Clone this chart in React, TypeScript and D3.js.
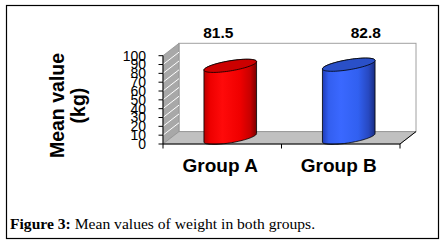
import React from "react";
import * as d3 from "d3";

const categories = ["Group A", "Group B"];
const values = [81.5, 82.8];
const valueLabels = ["81.5", "82.8"];
const yTicks = [0, 10, 20, 30, 40, 50, 60, 70, 80, 90, 100];
const labelDx = [-4, 25];

const W = 446;
const H = 245;

export default function App() {
  const x0 = 163, x1 = 400;
  const dx = 16, dy = 12.4;
  const y = d3.scaleLinear().domain([0, 100]).range([144, 55.7]);
  const xb = d3.scaleBand().domain(categories).range([x0, x1]).padding(0);
  const bw = xb.bandwidth();
  const halfW = bw * 0.222;
  const B = halfW * 0.64;
  const A = Math.sqrt(halfW * halfW - B * B);
  const C = 6.6;
  const t0 = Math.atan2(B, A);
  const line = d3.line<[number, number]>();

  const ell = (cx: number, cy: number, ta: number, tb: number, n = 60) => {
    const pts: [number, number][] = [];
    for (let i = 0; i <= n; i++) {
      const t = ta + ((tb - ta) * i) / n;
      pts.push([cx + A * Math.cos(t) + B * Math.sin(t), cy - C * Math.sin(t)]);
    }
    return pts;
  };

  const y0 = y(0);
  const yTop = y(100);
  const colors = [
    { id: "gr", stops: ["#b80000", "#ee0000", "#ff0a0a", "#f00000", "#c80000", "#7a0000"], top: "#cc0000" },
    { id: "gb", stops: ["#1f3cb8", "#335ff0", "#3a68ff", "#3160f0", "#2748c0", "#182c80"], top: "#2a50c8" },
  ];
  const offs = [0, 0.12, 0.35, 0.68, 0.88, 1];

  return (
    <svg width={W} height={H} style={{ position: "absolute", left: 0, top: 0, background: "#fff" }}>
      <defs>
        {colors.map((c) => (
          <linearGradient key={c.id} id={c.id} x1="0" x2="1" y1="0" y2="0">
            {c.stops.map((s, i) => (
              <stop key={i} offset={offs[i]} stopColor={s} />
            ))}
          </linearGradient>
        ))}
      </defs>
      <rect x={6.5} y={5.5} width={432} height={233} fill="#fff" stroke="#000" strokeWidth={1.2} />

      {/* back wall */}
      <rect x={x0 + dx} y={yTop - dy} width={x1 - x0} height={y0 - yTop} fill="#fff" stroke="#a0a0a0" strokeWidth={1} />
      {/* side wall */}
      <path
        d={line([[x0, y0], [x0, yTop], [x0 + dx, yTop - dy], [x0 + dx, y0 - dy]])! + "Z"}
        fill="#a8a8a8"
        stroke="#909090"
        strokeWidth={0.8}
      />
      {yTicks.slice(1, -1).map((t) => (
        <line key={t} x1={x0} y1={y(t)} x2={x0 + dx} y2={y(t) - dy} stroke="#fff" strokeWidth={1} />
      ))}
      {/* floor */}
      <path
        d={line([[x0, y0], [x1, y0], [x1 + dx, y0 - dy], [x0 + dx, y0 - dy]])! + "Z"}
        fill="#c0c0c0"
        stroke="#909090"
        strokeWidth={0.8}
      />
      <line x1={x1} y1={y0} x2={x1 + dx} y2={y0 - dy} stroke="#000" strokeWidth={1} />

      {/* cylinders */}
      {categories.map((cat, i) => {
        const cx = (xb(cat) as number) + bw / 2 + dx / 2;
        const cyB = y0 - dy / 2;
        const cyT = y(values[i]) - dy / 2;
        const body = [
          ...ell(cx, cyB, t0 + Math.PI, t0 + 2 * Math.PI),
          ...ell(cx, cyT, t0, t0 + Math.PI),
        ];
        const top = ell(cx, cyT, 0, 2 * Math.PI, 80);
        return (
          <g key={cat}>
            <path d={line(body)! + "Z"} fill={`url(#${colors[i].id})`} stroke="#000" strokeWidth={0.8} />
            <path d={line(top)! + "Z"} fill={colors[i].top} stroke="#000" strokeWidth={0.8} />
          </g>
        );
      })}

      {/* axes */}
      <line x1={x0} y1={yTop} x2={x0} y2={y0} stroke="#000" strokeWidth={1} />
      {yTicks.map((t) => (
        <line key={t} x1={x0 - 4.5} y1={y(t)} x2={x0} y2={y(t)} stroke="#000" strokeWidth={1} />
      ))}
      <line x1={x0} y1={y0} x2={x1} y2={y0} stroke="#000" strokeWidth={1} />
      {[x0, ...categories.map((c) => (xb(c) as number) + bw)].map((xx, i) => (
        <line key={i} x1={xx} y1={y0} x2={xx} y2={y0 + 4.5} stroke="#000" strokeWidth={1} />
      ))}
      {yTicks.map((t) => (
        <text
          key={t}
          x={146}
          y={y(t)}
          dy="0.35em"
          textAnchor="end"
          fontFamily="Liberation Sans, Arial, sans-serif"
          fontSize={14}
          fill="#000"
        >
          {t}
        </text>
      ))}
      {categories.map((cat) => (
        <text
          key={cat}
          x={(xb(cat) as number) + bw / 2 - 2}
          y={172}
          textAnchor="middle"
          fontFamily="Liberation Sans, Arial, sans-serif"
          fontWeight="bold"
          fontSize={19}
          fill="#000"
        >
          {cat}
        </text>
      ))}
      {categories.map((cat, i) => (
        <text
          key={cat}
          x={(xb(cat) as number) + bw / 2 + labelDx[i]}
          y={38}
          textAnchor="middle"
          fontFamily="Liberation Sans, Arial, sans-serif"
          fontWeight="bold"
          fontSize={15.5}
          fill="#000"
        >
          {valueLabels[i]}
        </text>
      ))}
      <g fontFamily="Liberation Sans, Arial, sans-serif" fontWeight="bold" fontSize={19.5} fill="#000">
        <text transform="translate(63.5,105.5) rotate(-90)" textAnchor="middle">Mean value</text>
        <text transform="translate(85,105.5) rotate(-90)" textAnchor="middle">(kg)</text>
      </g>
      <text x={10} y={228.5} fontFamily="Liberation Serif, Times New Roman, serif" fontSize={15.6} fill="#000">
        <tspan fontWeight="bold">Figure 3:</tspan>
        <tspan> Mean values of weight in both groups.</tspan>
      </text>
    </svg>
  );
}
